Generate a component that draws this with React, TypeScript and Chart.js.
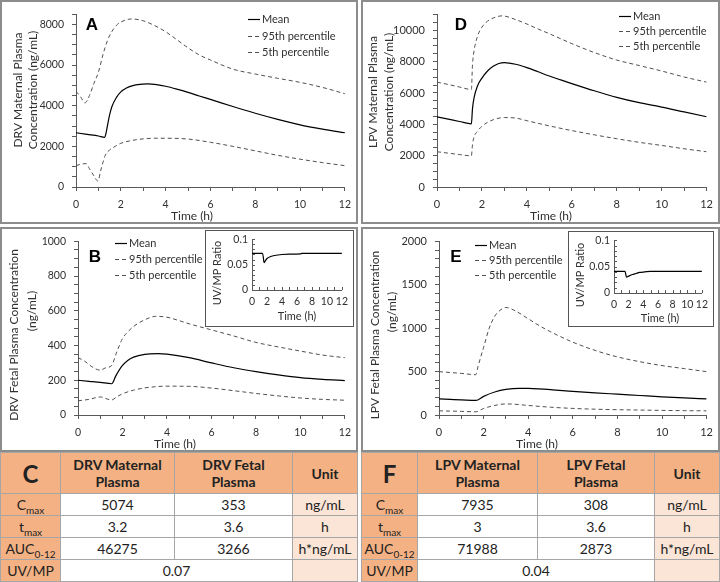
import React, { useEffect, useRef } from 'react';
import { Chart, registerables } from 'chart.js';
Chart.register(...registerables);

// ---------------- DATA ----------------
const timeTickLabels = [0, 2, 4, 6, 8, 10, 12];
const ratioTickLabels = [0, 0.05, 0.1];
const seriesLabels = ['Mean', '95th percentile', '5th percentile'];

// A: DRV maternal plasma (ng/mL)
const drvMatMeanT = [0, 0.5, 1, 1.28, 1.33, 1.4, 1.5, 1.6, 1.8, 2, 2.25, 2.5, 2.75, 3.2, 3.6, 4, 4.5, 5, 5.5, 6, 7, 8, 9, 10, 11, 12];
const drvMatMeanV = [2670, 2590, 2510, 2440, 2600, 3000, 3550, 3950, 4400, 4680, 4870, 4980, 5040, 5074, 5040, 4960, 4820, 4660, 4480, 4310, 3960, 3630, 3330, 3060, 2850, 2670];
const drvMatP95T = [0, 0.2, 0.4, 0.6, 0.8, 1.0, 1.2, 1.4, 1.6, 1.8, 2.0, 2.5, 3, 3.5, 4, 4.5, 5, 5.5, 6, 7, 8, 9, 10, 11, 12];
const drvMatP95V = [4700, 4450, 4140, 4500, 5100, 5650, 6500, 7200, 7650, 7950, 8120, 8270, 8180, 7950, 7640, 7250, 6850, 6500, 6250, 5800, 5560, 5350, 5150, 4900, 4590];
const drvMatP5T = [0, 0.25, 0.45, 0.6, 0.8, 0.98, 1.1, 1.2, 1.3, 1.5, 1.75, 2, 2.5, 3, 3.5, 4, 5, 6, 7, 8, 9, 10, 11, 12];
const drvMatP5V = [1050, 1130, 1150, 900, 550, 290, 800, 1200, 1550, 1820, 2000, 2150, 2290, 2370, 2400, 2400, 2360, 2200, 2000, 1780, 1560, 1370, 1200, 1050];

// D: LPV maternal plasma (ng/mL)
const lpvMatMeanT = [0, 0.5, 1, 1.53, 1.58, 1.65, 1.8, 2, 2.25, 2.5, 2.75, 3, 3.5, 4, 4.5, 5, 6, 7, 8, 9, 10, 11, 12];
const lpvMatMeanV = [4480, 4330, 4180, 4030, 5000, 5700, 6450, 6950, 7400, 7700, 7880, 7935, 7830, 7620, 7350, 7080, 6600, 6140, 5720, 5380, 5100, 4790, 4480];
const lpvMatP95T = [0, 0.5, 1, 1.53, 1.58, 1.65, 1.8, 2, 2.25, 2.5, 2.9, 3.5, 4, 4.5, 5, 6, 7, 8, 9, 10, 11, 12];
const lpvMatP95V = [6690, 6540, 6380, 6220, 7800, 8700, 9600, 10200, 10580, 10780, 10920, 10680, 10400, 10080, 9780, 9150, 8580, 8100, 7750, 7400, 7020, 6690];
const lpvMatP5T = [0, 0.5, 1, 1.53, 1.58, 1.65, 1.8, 2, 2.5, 3, 3.5, 4, 5, 6, 7, 8, 9, 10, 11, 12];
const lpvMatP5V = [2250, 2160, 2070, 1990, 2700, 3200, 3550, 3880, 4290, 4430, 4400, 4230, 3900, 3600, 3330, 3080, 2850, 2650, 2440, 2250];

// B: DRV fetal plasma (ng/mL)
const drvFetMeanT = [0, 0.5, 1, 1.52, 1.7, 2, 2.25, 2.5, 3, 3.6, 4, 5, 6, 7, 8, 9, 10, 11, 12];
const drvFetMeanV = [200, 194, 188, 180, 225, 285, 315, 333, 349, 353, 350, 330, 300, 272, 250, 231, 215, 205, 198];
const drvFetP95T = [0, 0.3, 0.6, 1.0, 1.25, 1.5, 1.75, 2, 2.25, 2.5, 3, 3.5, 4, 4.5, 5, 6, 7, 8, 9, 10, 11, 12];
const drvFetP95V = [330, 310, 280, 258, 272, 283, 365, 440, 480, 510, 548, 568, 563, 545, 525, 490, 455, 418, 392, 368, 345, 330];
const drvFetP5T = [0, 0.5, 1.0, 1.25, 1.5, 1.75, 2, 2.5, 3, 3.5, 4, 5, 6, 7, 8, 9, 10, 11, 12];
const drvFetP5V = [82, 90, 104, 95, 86, 105, 122, 143, 156, 163, 166, 165, 155, 140, 124, 110, 98, 90, 85];

// E: LPV fetal plasma (ng/mL)
const lpvFetMeanT = [0, 0.5, 1, 1.65, 2, 2.5, 3, 3.6, 4, 5, 6, 7, 8, 9, 10, 11, 12];
const lpvFetMeanV = [185, 180, 175, 168, 215, 265, 295, 308, 306, 292, 272, 255, 240, 225, 210, 197, 185];
const lpvFetP95T = [0, 0.5, 1, 1.65, 1.75, 2, 2.25, 2.5, 2.75, 3, 3.5, 4, 4.5, 5, 6, 7, 8, 9, 10, 11, 12];
const lpvFetP95V = [500, 490, 480, 465, 560, 780, 1000, 1140, 1210, 1240, 1190, 1110, 1030, 960, 840, 745, 670, 615, 570, 535, 500];
const lpvFetP5T = [0, 1, 1.65, 2, 2.5, 3, 3.5, 4, 5, 6, 7, 8, 9, 10, 11, 12];
const lpvFetP5V = [48, 42, 37, 75, 110, 128, 122, 110, 90, 76, 67, 61, 57, 53, 50, 48];

// Insets: UV/MP ratio
const drvRatioT = [0, 1.4, 1.5, 1.6, 1.8, 2, 2.5, 3, 4, 5, 6.5, 6.6, 12];
const drvRatioV = [0.072, 0.072, 0.066, 0.054, 0.058, 0.062, 0.066, 0.068, 0.070, 0.0705, 0.071, 0.072, 0.072];
const lpvRatioT = [0, 1.5, 1.6, 1.7, 2, 2.5, 3, 3.5, 4.2, 5, 12];
const lpvRatioV = [0.041, 0.041, 0.036, 0.030, 0.032, 0.035, 0.037, 0.039, 0.040, 0.041, 0.041];

// Tables
const paramNames = [['C', 'max'], ['t', 'max'], ['AUC', '0-12']];
const paramUnits = ['ng/mL', 'h', 'h*ng/mL'];
const drvMaternalVals = ['5074', '3.2', '46275'];
const drvFetalVals = ['353', '3.6', '3266'];
const drvRatio = '0.07';
const lpvMaternalVals = ['7935', '3', '71988'];
const lpvFetalVals = ['308', '3.6', '2873'];
const lpvRatio = '0.04';

// ---------------- HELPERS ----------------
const AX = '#595959';
const TXT = '#303030';

const pts = (t: number[], v: number[]) => t.map((x, i) => ({ x, y: v[i] }));
function range(a: number, b: number, s: number) {
  const out: number[] = [];
  for (let i = 0; a + i * s <= b + 1e-9; i++) out.push(+(a + i * s).toFixed(4));
  return out;
}
const labelIn = (list: number[]) => (v: number) =>
  list.some((l) => Math.abs(l - v) < 1e-9) ? String(v) : '';

const overlayPlugin = {
  id: 'overlay',
  afterDraw(chart: any, _a: any, opts: any) {
    const ctx = chart.ctx;
    ctx.save();
    (opts.texts || []).forEach((tx: any) => {
      ctx.save();
      ctx.font = tx.font;
      ctx.fillStyle = tx.color || TXT;
      ctx.textAlign = 'center';
      ctx.textBaseline = 'middle';
      ctx.translate(tx.x, tx.y);
      if (tx.rot) ctx.rotate(tx.rot);
      ctx.fillText(tx.text, 0, 0);
      ctx.restore();
    });
    if (opts.legend) {
      const { x, y, gap, font } = opts.legend;
      chart.data.datasets.forEach((ds: any, i: number) => {
        const yy = Math.round(y + i * gap);
        ctx.beginPath();
        ctx.setLineDash(ds.borderDash || []);
        ctx.strokeStyle = ds.borderColor;
        ctx.lineWidth = ds.borderWidth;
        ctx.moveTo(x, yy + 0.5);
        ctx.lineTo(x + 12, yy + 0.5);
        ctx.stroke();
        ctx.setLineDash([]);
        ctx.font = font;
        ctx.fillStyle = TXT;
        ctx.textAlign = 'left';
        ctx.textBaseline = 'middle';
        ctx.fillText(ds.label, x + 14, yy);
      });
    }
    if (opts.innerTicks) {
      const { chartArea: ca, scales } = chart;
      const len = opts.innerTicks;
      ctx.strokeStyle = AX;
      ctx.lineWidth = 1;
      scales.x.ticks.forEach((t: any) => {
        const px = Math.round(scales.x.getPixelForValue(t.value)) + 0.5;
        ctx.beginPath();
        ctx.moveTo(px, ca.bottom);
        ctx.lineTo(px, ca.bottom - len);
        ctx.stroke();
      });
      scales.y.ticks.forEach((t: any) => {
        const py = Math.round(scales.y.getPixelForValue(t.value)) + 0.5;
        ctx.beginPath();
        ctx.moveTo(ca.left, py);
        ctx.lineTo(ca.left + len, py);
        ctx.stroke();
      });
    }
    ctx.restore();
  },
};

interface Series { label: string; t: number[]; v: number[]; dashed: boolean }
interface MainSpec {
  w: number; h: number; area: { l: number; r: number; t: number; b: number };
  series: Series[]; yMax: number; yStep: number; yLabels: number[]; tickSize: number;
  yTitle: string[]; yTitleX: number[]; yTitleY: number[]; xTitleX: number; xTitleY: number;
  letter: string; letterX: number; letterY: number;
  legendX: number; legendY: number; legendGap: number;
}
interface InsetSpec {
  left: number; top: number; w: number; h: number;
  area: { l: number; r: number; t: number; b: number };
  t: number[]; v: number[]; yTitleX: number; yTitleY: number; xTitleX: number; xTitleY: number;
}

function axisCommon(color = AX) {
  return {
    grid: { drawOnChartArea: false, drawTicks: true, tickLength: 4, color },
    border: { color, width: 1 },
  };
}

function mainConfig(s: MainSpec): any {
  const tickFont = { family: 'Lato', size: s.tickSize, lineHeight: 1.2 };
  return {
    type: 'line',
    data: {
      datasets: s.series.map((sr) => ({
        label: sr.label,
        data: pts(sr.t, sr.v),
        borderColor: sr.dashed ? '#505050' : '#000000',
        borderWidth: sr.dashed ? 1 : 1.2,
        borderDash: sr.dashed ? [4, 3] : [],
        pointRadius: 0,
        fill: false,
        cubicInterpolationMode: 'monotone',
      })),
    },
    options: {
      animation: false,
      responsive: false,
      events: [],
      layout: { padding: { left: 0, top: s.area.t, right: s.w - s.area.r, bottom: 0 } },
      plugins: {
        legend: { display: false },
        tooltip: { enabled: false },
        overlay: {
          texts: [
            { text: s.yTitle[0], x: s.yTitleX[0], y: s.yTitleY[0], rot: -Math.PI / 2, font: '12px Lato' },
            { text: s.yTitle[1], x: s.yTitleX[1], y: s.yTitleY[1], rot: -Math.PI / 2, font: '12px Lato' },
            { text: 'Time (h)', x: s.xTitleX, y: s.xTitleY, font: '12px Lato' },
            { text: s.letter, x: s.letterX, y: s.letterY, font: 'bold 17px "Liberation Sans", Arial, sans-serif', color: '#000' },
          ],
          legend: { x: s.legendX, y: s.legendY, gap: s.legendGap, font: '11px Lato' },
        },
      },
      scales: {
        x: {
          type: 'linear', min: 0, max: 12,
          afterBuildTicks: (sc: any) => { sc.ticks = range(0, 12, 1).map((v) => ({ value: v })); },
          afterFit: (sc: any) => { sc.height = s.h - s.area.b; },
          ticks: { callback: labelIn(timeTickLabels), font: tickFont, color: TXT, padding: 7, maxRotation: 0, minRotation: 0, autoSkip: false },
          ...axisCommon(),
        },
        y: {
          type: 'linear', min: 0, max: s.yMax,
          afterBuildTicks: (sc: any) => { sc.ticks = range(0, s.yMax, s.yStep).map((v) => ({ value: v })); },
          afterFit: (sc: any) => { sc.width = s.area.l; },
          ticks: { callback: labelIn(s.yLabels), font: tickFont, color: TXT, padding: 8, autoSkip: false },
          ...axisCommon(),
        },
      },
    },
    plugins: [overlayPlugin],
  };
}

function insetConfig(s: InsetSpec): any {
  const tickFont = { family: 'Lato', size: 10.5, lineHeight: 1 };
  return {
    type: 'line',
    data: {
      datasets: [{
        label: 'UV/MP',
        data: pts(s.t, s.v),
        borderColor: '#000', borderWidth: 1.2, pointRadius: 0, fill: false,
        cubicInterpolationMode: 'monotone',
      }],
    },
    options: {
      animation: false, responsive: false, events: [],
      layout: { padding: { left: 0, top: s.area.t, right: s.w - s.area.r, bottom: 0 } },
      plugins: {
        legend: { display: false }, tooltip: { enabled: false },
        overlay: {
          texts: [
            { text: 'UV/MP Ratio', x: s.yTitleX, y: s.yTitleY, rot: -Math.PI / 2, font: '11px Lato' },
            { text: 'Time (h)', x: s.xTitleX, y: s.xTitleY, font: '11px Lato' },
          ],
          innerTicks: 3,
        },
      },
      scales: {
        x: {
          type: 'linear', min: 0, max: 12,
          afterBuildTicks: (sc: any) => { sc.ticks = range(0, 12, 1).map((v) => ({ value: v })); },
          afterFit: (sc: any) => { sc.height = s.h - s.area.b; },
          ticks: { callback: labelIn(timeTickLabels), font: tickFont, color: TXT, padding: 6, maxRotation: 0, minRotation: 0, autoSkip: false },
          grid: { drawOnChartArea: false, drawTicks: false },
          border: { color: AX, width: 1 },
        },
        y: {
          type: 'linear', min: 0, max: 0.1,
          afterBuildTicks: (sc: any) => { sc.ticks = range(0, 0.1, 0.01).map((v) => ({ value: v })); },
          afterFit: (sc: any) => { sc.width = s.area.l; },
          ticks: { callback: labelIn(ratioTickLabels), font: tickFont, color: TXT, padding: 4, autoSkip: false },
          grid: { drawOnChartArea: false, drawTicks: false },
          border: { color: AX, width: 1 },
        },
      },
    },
    plugins: [overlayPlugin],
  };
}

function ChartCanvas({ w, h, make }: { w: number; h: number; make: () => any }) {
  const ref = useRef<HTMLCanvasElement>(null);
  useEffect(() => {
    const c = new Chart(ref.current as HTMLCanvasElement, make());
    return () => c.destroy();
  }, []);
  return <canvas ref={ref} width={w} height={h} style={{ position: 'absolute', left: 0, top: 0, width: w, height: h }} />;
}

function Panel({ left, top, spec, inset }: { left: number; top: number; spec: MainSpec; inset?: InsetSpec }) {
  return (
    <div style={{ position: 'absolute', left, top, width: spec.w, height: spec.h, background: '#fff' }}>
      <ChartCanvas w={spec.w} h={spec.h} make={() => mainConfig(spec)} />
      {inset && (
        <div style={{ position: 'absolute', left: inset.left, top: inset.top, width: inset.w, height: inset.h, background: '#fff' }}>
          <ChartCanvas w={inset.w} h={inset.h} make={() => insetConfig(inset)} />
          <div style={{ position: 'absolute', left: 0, top: 0, right: 0, bottom: 0, border: '1px solid #555', boxSizing: 'border-box' }} />
        </div>
      )}
      <div style={{ position: 'absolute', left: 0, top: 0, right: 0, bottom: 0, border: '2px solid #8c8c8c', boxSizing: 'border-box', pointerEvents: 'none' }} />
    </div>
  );
}

function ParamTable({ left, width, cols, letter, drug, maternal, fetal, ratio }: any) {
  const orange = '#F4B183';
  const light = '#FBE5D6';
  const cell = (bg: string, content: any, extra: any = {}, key?: any) => (
    <div key={key} style={{ background: bg, display: 'flex', alignItems: 'center', justifyContent: 'center', textAlign: 'center', ...extra }}>{content}</div>
  );
  return (
    <div style={{
      position: 'absolute', left, top: 452, width, height: 130, boxSizing: 'border-box', padding: 1,
      display: 'grid', gridTemplateColumns: cols.map((c: number) => c + 'px').join(' '),
      gridTemplateRows: '40px 21px 21px 21px 21px', gap: 1, background: '#a6a6a6',
      color: '#222', fontFamily: 'Lato, sans-serif', fontSize: 14,
    }}>
      {cell(orange, letter, { fontWeight: 700, fontSize: 24 })}
      {cell(orange, <span>{drug} Maternal<br />Plasma</span>, { fontWeight: 700, lineHeight: '17px' })}
      {cell(orange, <span>{drug} Fetal<br />Plasma</span>, { fontWeight: 700, lineHeight: '17px' })}
      {cell(orange, 'Unit', { fontWeight: 700 })}
      {paramNames.map((p, i) => (
        <React.Fragment key={i}>
          {cell(orange, <span>{p[0]}<span style={{ fontSize: 10, position: 'relative', top: 4 }}>{p[1]}</span></span>)}
          {cell('#fff', maternal[i])}
          {cell('#fff', fetal[i])}
          {cell(light, paramUnits[i])}
        </React.Fragment>
      ))}
      {cell(orange, 'UV/MP')}
      {cell('#fff', ratio, { gridColumn: 'span 2' })}
      {cell(light, '')}
    </div>
  );
}

// ---------------- SPECS ----------------
const specA: MainSpec = {
  w: 358, h: 224, area: { l: 76, r: 348, t: 8, b: 187 },
  series: [
    { label: seriesLabels[0], t: drvMatMeanT, v: drvMatMeanV, dashed: false },
    { label: seriesLabels[1], t: drvMatP95T, v: drvMatP95V, dashed: true },
    { label: seriesLabels[2], t: drvMatP5T, v: drvMatP5V, dashed: true },
  ],
  yMax: 8500, yStep: 500, yLabels: [0, 2000, 4000, 6000, 8000], tickSize: 10.5,
  yTitle: ['DRV Maternal Plasma', 'Concentration (ng/mL)'], yTitleX: [18, 33], yTitleY: [90, 90],
  xTitleX: 192, xTitleY: 216, letter: 'A', letterX: 92, letterY: 25,
  legendX: 248, legendY: 19, legendGap: 16.5,
};
const specD: MainSpec = {
  w: 359, h: 224, area: { l: 76, r: 348, t: 8, b: 187 },
  series: [
    { label: seriesLabels[0], t: lpvMatMeanT, v: lpvMatMeanV, dashed: false },
    { label: seriesLabels[1], t: lpvMatP95T, v: lpvMatP95V, dashed: true },
    { label: seriesLabels[2], t: lpvMatP5T, v: lpvMatP5V, dashed: true },
  ],
  yMax: 11000, yStep: 500, yLabels: [0, 2000, 4000, 6000, 8000, 10000], tickSize: 11,
  yTitle: ['LPV Maternal Plasma', 'Concentration (ng/mL)'], yTitleX: [12, 28], yTitleY: [92, 92],
  xTitleX: 190, xTitleY: 216, letter: 'D', letterX: 100, letterY: 25,
  legendX: 258, legendY: 16, legendGap: 15,
};
const specB: MainSpec = {
  w: 358, h: 225, area: { l: 78, r: 347, t: 14, b: 188 },
  series: [
    { label: seriesLabels[0], t: drvFetMeanT, v: drvFetMeanV, dashed: false },
    { label: seriesLabels[1], t: drvFetP95T, v: drvFetP95V, dashed: true },
    { label: seriesLabels[2], t: drvFetP5T, v: drvFetP5V, dashed: true },
  ],
  yMax: 1000, yStep: 50, yLabels: [0, 200, 400, 600, 800, 1000], tickSize: 10.5,
  yTitle: ['DRV Fetal Plasma Concentration', '(ng/mL)'], yTitleX: [14, 32], yTitleY: [108, 84],
  xTitleX: 175, xTitleY: 217, letter: 'B', letterX: 95, letterY: 30,
  legendX: 115, legendY: 16, legendGap: 16,
};
const specE: MainSpec = {
  w: 359, h: 225, area: { l: 78, r: 347, t: 8, b: 188 },
  series: [
    { label: seriesLabels[0], t: lpvFetMeanT, v: lpvFetMeanV, dashed: false },
    { label: seriesLabels[1], t: lpvFetP95T, v: lpvFetP95V, dashed: true },
    { label: seriesLabels[2], t: lpvFetP5T, v: lpvFetP5V, dashed: true },
  ],
  yMax: 2000, yStep: 100, yLabels: [0, 500, 1000, 1500, 2000], tickSize: 11,
  yTitle: ['LPV Fetal Plasma Concentration', '(ng/mL)'], yTitleX: [14, 31], yTitleY: [108, 85],
  xTitleX: 176, xTitleY: 217, letter: 'E', letterX: 95, letterY: 30,
  legendX: 114, legendY: 18, legendGap: 15,
};
const insetB: InsetSpec = {
  left: 205, top: 3, w: 149, h: 97, area: { l: 47, r: 138, t: 7, b: 60 },
  t: drvRatioT, v: drvRatioV, yTitleX: 12, yTitleY: 43, xTitleX: 92, xTitleY: 86,
};
const insetE: InsetSpec = {
  left: 207, top: 4, w: 146, h: 96, area: { l: 46, r: 138, t: 5, b: 62 },
  t: lpvRatioT, v: lpvRatioV, yTitleX: 12, yTitleY: 44, xTitleX: 92, xTitleY: 87,
};

export default function App() {
  useEffect(() => { document.body.style.margin = '0'; }, []);
  return (
    <div style={{ position: 'absolute', left: 0, top: 0, width: 720, height: 582, background: '#fff', overflow: 'hidden' }}>
      <Panel left={0} top={0} spec={specA} />
      <Panel left={361} top={0} spec={specD} />
      <Panel left={0} top={227} spec={specB} inset={insetB} />
      <Panel left={361} top={227} spec={specE} inset={insetE} />
      <ParamTable left={0} width={358} cols={[59, 113, 117, 64]} letter="C" drug="DRV"
        maternal={drvMaternalVals} fetal={drvFetalVals} ratio={drvRatio} />
      <ParamTable left={361} width={359} cols={[55, 119, 116, 64]} letter="F" drug="LPV"
        maternal={lpvMaternalVals} fetal={lpvFetalVals} ratio={lpvRatio} />
    </div>
  );
}
